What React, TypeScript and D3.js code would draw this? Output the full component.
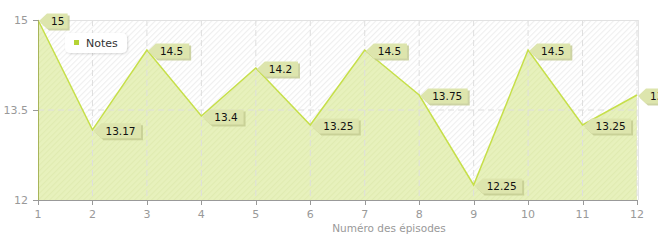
import React, { useEffect } from "react";
import * as d3 from "d3";

const episodes = [1, 2, 3, 4, 5, 6, 7, 8, 9, 10, 11, 12];
const notes = [15, 13.17, 14.5, 13.4, 14.2, 13.25, 14.5, 13.75, 12.25, 14.5, 13.25, 13.75];
const yTicks = [12, 13.5, 15];
const seriesName = "Notes";
const xTitle = "Numéro des épisodes";

const W = 658;
const H = 240;
const FONT = "'DejaVu Sans', Verdana, sans-serif";

export default function App() {
  useEffect(() => {
    document.body.style.margin = "0";
  }, []);
  const x = d3.scaleLinear().domain([1, 12]).range([38, 637]);
  const y = d3.scaleLinear().domain([12, 15]).range([200, 20]);
  const area = d3
    .area<number>()
    .x((_, i) => x(episodes[i]))
    .y0(y(12))
    .y1((d) => y(d));
  const line = d3
    .line<number>()
    .x((_, i) => x(episodes[i]))
    .y((d) => y(d));

  const labelPath = (w: number) => {
    const h = 15;
    return `M0,0 L8,${-h / 2} L${8 + w},${-h / 2} L${8 + w},${h / 2} L8,${h / 2} Z`;
  };

  return (
    <svg width={W} height={H} style={{ display: "block", position: "absolute", left: 0, top: 0 }} fontFamily={FONT}>
      <defs>
        <pattern id="hatch" width="4" height="4" patternUnits="userSpaceOnUse" patternTransform="rotate(45)">
          <rect width="4" height="4" fill="#ffffff" />
          <line x1="0.5" y1="0" x2="0.5" y2="4" stroke="#efefef" strokeWidth="1.2" />
        </pattern>
        <pattern id="hatchG" width="4" height="4" patternUnits="userSpaceOnUse" patternTransform="rotate(45)">
          <rect width="4" height="4" fill="#e7f1bc" />
          <line x1="0.5" y1="0" x2="0.5" y2="4" stroke="#e0ebb1" strokeWidth="1.2" />
        </pattern>
        <filter id="sh" x="-20%" y="-20%" width="150%" height="160%">
          <feDropShadow dx="1" dy="1" stdDeviation="1" floodColor="#000" floodOpacity="0.15" />
        </filter>
      </defs>
      <rect x={38} y={20} width={600} height={180} fill="url(#hatch)" />
      <path d={area(notes) ?? ""} fill="url(#hatchG)" />
      {/* grid */}
      {episodes.slice(1).map((e) => (
        <line key={e} x1={x(e)} x2={x(e)} y1={20} y2={200} stroke="#dedede" strokeDasharray="6,4" />
      ))}
      <line x1={38} x2={638} y1={y(13.5)} y2={y(13.5)} stroke="#dedede" strokeDasharray="6,4" />
      <line x1={38} x2={638} y1={20.5} y2={20.5} stroke="#e2e2e2" />
      <line x1={638.5} x2={638.5} y1={20} y2={200} stroke="#e6e6e6" />
      <path d={line(notes) ?? ""} fill="none" stroke="#c6df4a" strokeWidth={1.5} />
      <line x1={38.5} x2={38.5} y1={20} y2={200} stroke="#a8b55a" />
      {/* axes */}
      <line x1={33} x2={638} y1={200.5} y2={200.5} stroke="#999" />
      {yTicks.map((t) => (
        <g key={t}>
          <line x1={33} x2={38} y1={Math.round(y(t)) + 0.5} y2={Math.round(y(t)) + 0.5} stroke="#999" />
          <text x={28} y={y(t) + 4} textAnchor="end" fontSize={11} fill="#999">
            {t}
          </text>
        </g>
      ))}
      {episodes.map((e) => (
        <g key={e}>
          <line x1={Math.round(x(e)) + 0.5} x2={Math.round(x(e)) + 0.5} y1={200} y2={205} stroke="#999" />
          <text x={x(e)} y={218} textAnchor="middle" fontSize={11} fill="#999">
            {e}
          </text>
        </g>
      ))}
      <text x={389} y={232} textAnchor="middle" fontSize={10.5} fill="#999">
        {xTitle}
      </text>
      {/* legend */}
      <rect x={65} y={33} width={62} height={20} rx={5} fill="#fff" filter="url(#sh)" />
      <rect x={74} y={40} width={5} height={5} fill="#b5d334" />
      <text x={86} y={47} fontSize={11} fill="#333">
        {seriesName}
      </text>
      {/* labels */}
      {notes.map((v, i) => {
        const s = String(v);
        const w = s.length * 6.3 + 8;
        const px = x(episodes[i]) + 1;
        const py = y(v) + 1;
        return (
          <g key={i} transform={`translate(${px},${py})`}>
            <path d={labelPath(w)} fill="#c2c98f" transform="translate(2,2)" opacity={0.8} />
            <path d={labelPath(w)} fill="#dde5ad" />
            <text x={12} y={4} fontSize={10.5} fill="#111">
              {s}
            </text>
          </g>
        );
      })}
    </svg>
  );
}
